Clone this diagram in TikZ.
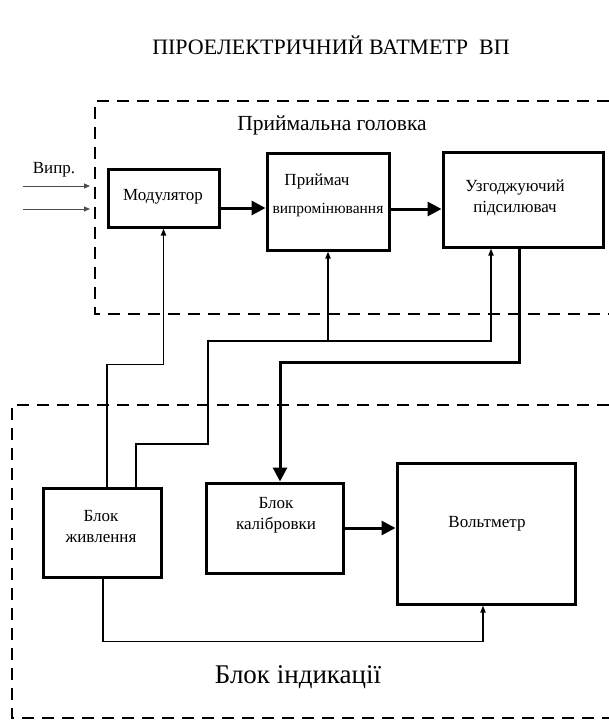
\documentclass[tikz,border=0pt]{standalone}
\usepackage{fontspec}
\setmainfont{Liberation Serif}
\usetikzlibrary{arrows.meta}

\begin{document}
\begin{tikzpicture}[x=1pt,y=-1pt]
    \tikzstyle{block}=[draw=black,line width=3pt,inner sep=0pt]
    \tikzstyle{blocktext}=[font=\fontsize{17}{21}\selectfont,align=center,inner sep=0pt]
    \tikzstyle{annot}=[inner sep=0pt]
    \tikzstyle{frame}=[line width=2pt,dash pattern=on 12pt off 8pt]
    \tikzstyle{thin link}=[line width=1.6pt,-{Triangle[length=7pt,width=5pt]}]
    \tikzstyle{thick link}=[line width=3pt,-{Triangle[length=14pt,width=14pt]}]
    \tikzstyle{input link}=[line width=0.8pt,draw=black!70,-{Triangle[length=6pt,width=5pt]}]

    \useasboundingbox (0,0) rectangle (609,722);

    % Title and captions
    \node[annot,font=\fontsize{22}{26}\selectfont] (title) at (331,45) {ПІРОЕЛЕКТРИЧНИЙ ВАТМЕТР\ \ ВП};
    \node[annot,font=\fontsize{21.5}{26}\selectfont] (head) at (332,125) {Приймальна головка};
    \node[annot,font=\fontsize{27}{31}\selectfont] (ind) at (298,677) {Блок індикації};
    \node[annot,font=\fontsize{17}{20}\selectfont] (rad) at (54,170) {Випр.};

    % Dashed frames
    \draw[frame] (609,101) -- (95,101) -- (95,314) -- (609,314);
    \draw[frame] (609,405) -- (12,405) -- (12,718) -- (609,718);

    % Blocks of the receiving head
    \node[block,minimum width=111pt,minimum height=57pt] (mod) at (163.5,198.5) {};
    \node[block,minimum width=122pt,minimum height=96pt] (pri) at (328,202) {};
    \node[block,minimum width=160pt,minimum height=94pt] (uzg) at (523,200) {};
    \node[blocktext] (mod-t) at (163,197) {Модулятор};
    \node[blocktext] (pri-t1) at (317,181) {Приймач};
    \node[blocktext,font=\fontsize{15.5}{20}\selectfont] (pri-t2) at (328,210) {випромінювання};
    \node[blocktext] (uzg-t) at (515,198) {Узгоджуючий\\підсилювач};

    % Blocks of the indicator
    \node[block,minimum width=118pt,minimum height=89pt] (pwr) at (102,532.5) {};
    \node[block,minimum width=137pt,minimum height=90pt] (cal) at (274.5,528) {};
    \node[block,minimum width=178pt,minimum height=141pt] (volt) at (486,533.5) {};
    \node[blocktext] (pwr-t) at (101,526.5) {Блок\\живлення};
    \node[blocktext] (cal-t) at (276,515.5) {Блок\\калібровки};
    \node[blocktext] (volt-t) at (487,524) {Вольтметр};

    % Radiation inputs
    \foreach \name / \y in {1/186,2/209}
        \draw[input link] (23,\y) coordinate (in-\name) -- (90,\y) coordinate (in-end-\name);

    % Signal path
    \draw[thick link] ([yshift=-9.5pt]mod.east) -- ([yshift=-9.5pt]mod.east -| pri.west);
    \draw[thick link] ([yshift=-7pt]pri.east) -- ([yshift=-7pt]pri.east -| uzg.west);
    \coordinate (turn) at (280,362);
    \draw[thick link] ([xshift=-4pt]uzg.south) |- (turn) -- (turn |- cal.north);
    \draw[thick link] (cal.east) -- (cal.east -| volt.west);

    % Supply lines
    \draw[thin link] ([xshift=5pt]pwr.north) -- ++(0,-122) -| (mod.south);
    \coordinate (bus) at (208,341);
    \draw[thin link] ([xshift=34pt]pwr.north) |- (208,444) -- (bus) -| ([xshift=-32pt]uzg.south);
    \draw[thin link] (pri.south |- bus) -- (pri.south);
    \draw[thin link] ([xshift=1pt]pwr.south) -- ++(0,63) -| ([xshift=-3pt]volt.south);
\end{tikzpicture}
\end{document}
